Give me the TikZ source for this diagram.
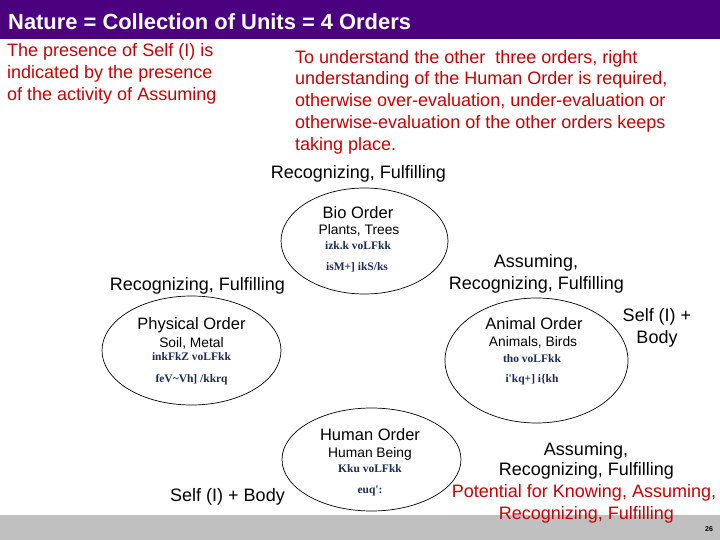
\documentclass[tikz,border=0pt]{standalone}
\usepackage{fontspec}
\setmainfont{Liberation Sans}
\newfontfamily\kdfont{Liberation Serif}
\usetikzlibrary{shapes.geometric}
\definecolor{titlebar}{RGB}{75,0,128}
\definecolor{redtext}{RGB}{204,0,0}
\definecolor{kdblue}{RGB}{28,42,88}
\definecolor{footgray}{RGB}{192,192,192}
\tikzset{
  ell/.style={draw=black, line width=0.7pt, ellipse, inner sep=0pt},
  big/.style={anchor=base, inner sep=0pt, font=\fontsize{18}{20}\selectfont},
  bigl/.style={big, anchor=base west},
  redl/.style={bigl, text=redtext},
  head/.style={anchor=base, inner sep=0pt, font=\fontsize{16.5}{18}\selectfont},
  sub/.style={anchor=base, inner sep=0pt, font=\fontsize{13.8}{15}\selectfont},
  kd/.style={anchor=base, inner sep=0pt, text=kdblue, font=\kdfont\bfseries\fontsize{11.5}{12}\selectfont},
}
\begin{document}
\begin{tikzpicture}[x=1pt,y=-1pt]
\useasboundingbox (0,0) rectangle (720,540);
\fill[white] (0,0) rectangle (720,540);
% bars
\fill[titlebar] (0,0) rectangle (720,39);
\fill[footgray] (0,515) rectangle (720,540);
\node[anchor=base west, inner sep=0pt, text=white, font=\bfseries\fontsize{21.9}{23}\selectfont] (title) at (8,29.5) {Nature = Collection of Units = 4 Orders};
\node[anchor=center, inner sep=0pt, font=\bfseries\fontsize{7}{8}\selectfont] (pg) at (709,529) {26};
% red notes
\node[redl] (l1) at (7,56.5) {The presence of Self (I) is};
\node[redl] (l2) at (7,78.5) {indicated by the presence};
\node[redl] (l3) at (7,100.5) {of the activity of Assuming};
\node[redl] (r1) at (295,63.5) {To understand the other\ \ three orders, right};
\node[redl] (r2) at (295,84.5) {understanding of the Human Order is required,};
\node[redl] (r3) at (295,106.5) {otherwise over-evaluation, under-evaluation or};
\node[redl] (r4) at (295,128.5) {otherwise-evaluation of the other orders keeps};
\node[redl] (r5) at (295,150.5) {taking place.};
% ellipses
\node[ell, minimum width=167pt, minimum height=106pt] (bio) at (364.5,241) {};
\node[ell, minimum width=179pt, minimum height=109pt] (phys) at (191.5,350.5) {};
\node[ell, minimum width=183pt, minimum height=125pt] (anim) at (536.5,360.5) {};
\node[ell, minimum width=179pt, minimum height=103pt] (hum) at (371.5,459.5) {};
% bio
\node[big] (bioact) at (358.5,178.5) {Recognizing, Fulfilling};
\node[head] (bioh) at (358,218.4) {Bio Order};
\node[sub] (bios) at (359,234.5) {Plants, Trees};
\node[kd] (biok1) at (358,249.5) {izk.k voLFkk};
\node[kd] (biok2) at (357,270.5) {isM+] ikS/ks};
% physical
\node[big] (physact) at (197.5,290.5) {Recognizing, Fulfilling};
\node[head] (physh) at (191.5,329) {Physical Order};
\node[sub] (physs) at (191.5,347) {Soil, Metal};
\node[kd] (physk1) at (191.5,360.5) {inkFkZ voLFkk};
\node[kd] (physk2) at (191.5,382.5) {feV\textasciitilde Vh] /kkrq};
% animal
\node[big] (animact1) at (536,267.5) {Assuming,};
\node[big] (animact2) at (536.5,289.5) {Recognizing, Fulfilling};
\node[head] (animh) at (534,329) {Animal Order};
\node[sub] (anims) at (533,346) {Animals, Birds};
\node[kd] (animk1) at (532,362.5) {tho voLFkk};
\node[kd] (animk2) at (532,382.5) {i'kq+] i\{kh};
\node[big] (animself1) at (657,321.5) {Self (I) +};
\node[big] (animself2) at (657,343.5) {Body};
% human
\node[head] (humh) at (370,440) {Human Order};
\node[sub] (hums) at (370,457) {Human Being};
\node[kd] (humk1) at (370,472) {Kku voLFkk};
\node[kd] (humk2) at (370,493) {euq':};
\node[big] (humself) at (227.5,501.5) {Self (I) + Body};
\node[big] (humact1) at (586,455.5) {Assuming,};
\node[big] (humact2) at (586.5,475.5) {Recognizing, Fulfilling};
\node[big, text=redtext] (humpot1) at (584,497.5) {Potential for Knowing, Assuming,};
\node[big, text=redtext] (humpot2) at (586.5,519.5) {Recognizing, Fulfilling};
\end{tikzpicture}
\end{document}
